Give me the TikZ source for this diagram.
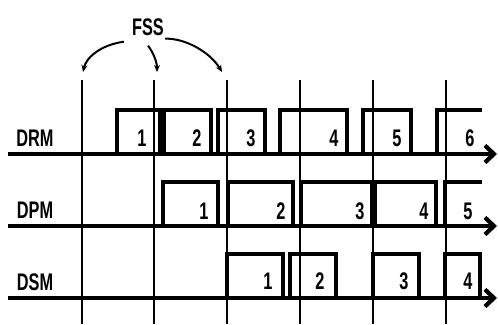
\documentclass[tikz,border=0pt]{standalone}
\usepackage{fontspec}
\setmainfont{Liberation Sans}[FakeStretch=0.68]
\usetikzlibrary{arrows.meta}
\begin{document}
\begin{tikzpicture}[x=1pt,y=-1pt,
  axisline/.style={line width=4.2pt,-{Straight Barb[length=9pt,width=17pt]}},
  pulse/.style={line width=3.4pt,line join=miter},
  fssline/.style={line width=1.6pt},
  fssarrow/.style={line width=2pt,-{Stealth[length=7pt,width=6pt]}},
  lbl/.style={inner sep=0pt,font=\fontsize{24}{24}\selectfont\bfseries},
  num/.style={inner sep=0pt,font=\fontsize{24}{24}\selectfont\bfseries}]
\useasboundingbox (0,0) rectangle (498,324);
% FSS vertical lines
\foreach \x in {82,154,227,300,373,446}
  \draw[fssline] (\x,80) -- (\x,324);
% axes
\coordinate (a1s) at (8,154);  \coordinate (a1e) at (497,154);
\coordinate (a2s) at (8,226);  \coordinate (a2e) at (497,226);
\coordinate (a3s) at (8,298);  \coordinate (a3e) at (497,298);
% DRM pulses (top 110, base 154)
\draw[pulse] (117,154) -- (117,110) -- (160,110) -- (160,154);
\draw[pulse] (164,154) -- (164,110) -- (211,110) -- (211,154);
\draw[pulse] (218,154) -- (218,110) -- (265,110) -- (265,154);
\draw[pulse] (280,154) -- (280,110) -- (347,110) -- (347,154);
\draw[pulse] (363,154) -- (363,110) -- (411,110) -- (411,154);
\draw[pulse] (437,154) -- (437,110) -- (482,110);
% DPM pulses (top 182, base 226)
\draw[pulse] (163,226) -- (163,182) -- (218,182) -- (218,226);
\draw[pulse] (228,226) -- (228,182) -- (293,182) -- (293,226);
\draw[pulse] (301,226) -- (301,182) -- (372,182) -- (372,226);
\draw[pulse] (375,226) -- (375,182) -- (436,182) -- (436,226);
\draw[pulse] (445,226) -- (445,182) -- (482,182);
% DSM pulses (top 254, base 298)
\draw[pulse] (227,298) -- (227,254) -- (283,254) -- (283,298);
\draw[pulse] (290,298) -- (290,254) -- (336,254) -- (336,298);
\draw[pulse] (373,298) -- (373,254) -- (419,254) -- (419,298);
\draw[pulse] (445,298) -- (445,254) -- (480,254) -- (480,298);
% axes on top
\draw[axisline] (a1s) -- (a1e);
\draw[axisline] (a2s) -- (a2e);
\draw[axisline] (a3s) -- (a3e);
% row labels
\node[lbl] (drm) at (35,138) {DRM};
\node[lbl] (dpm) at (35,210) {DPM};
\node[lbl] (dsm) at (35,282) {DSM};
% numbers
\node[num] (r1) at (142,138) {1};
\node[num] (r2) at (197,138) {2};
\node[num] (r3) at (251,138) {3};
\node[num] (r4) at (334,138) {4};
\node[num] (r5) at (397,138) {5};
\node[num] (r6) at (470,138) {6};
\node[num] (p1) at (204,211) {1};
\node[num] (p2) at (281,211) {2};
\node[num] (p3) at (360,211) {3};
\node[num] (p4) at (424,211) {4};
\node[num] (p5) at (468,211) {5};
\node[num] (s1) at (268,281) {1};
\node[num] (s2) at (320,281) {2};
\node[num] (s3) at (404,281) {3};
\node[num] (s4) at (468,281) {4};
% FSS label and arrows
\node[lbl] (fss) at (148,27) {FSS};
\coordinate (f1) at (83,72);
\coordinate (f2) at (157,72);
\coordinate (f3) at (222,72);
\draw[fssarrow] (fss.south west) ++(-8,6) .. controls (100,45) and (86,58) .. (f1);
\draw[fssarrow] (fss.south) ++(0,10) .. controls (153,52) and (157,62) .. (f2);
\draw[fssarrow] (fss.south east) ++(1,3) .. controls (185,38) and (210,52) .. (f3);
\end{tikzpicture}
\end{document}
